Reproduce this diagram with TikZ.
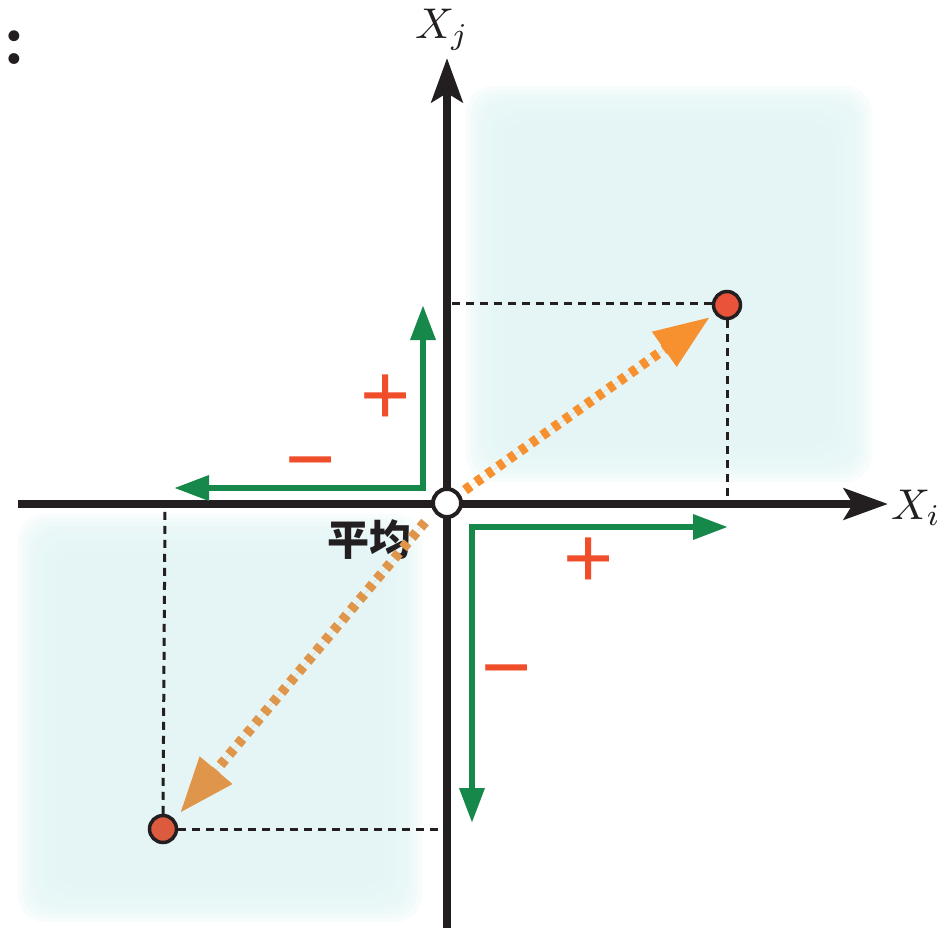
\documentclass[tikz,border=0pt]{standalone}
\usepackage{fontspec}
\usepackage{graphicx}
\newfontfamily\cjk{Noto Sans CJK SC}
\newfontfamily\signfont{Liberation Sans}
\usetikzlibrary{arrows.meta}
\definecolor{axisblack}{HTML}{231F20}
\definecolor{gr}{HTML}{15884A}
\definecolor{signcol}{HTML}{F04E2B}
\definecolor{orA}{HTML}{F7902F}
\definecolor{orB}{HTML}{E0964A}
\definecolor{ptA}{HTML}{E8533A}
\definecolor{ptB}{HTML}{DC5A3E}
\definecolor{quadcol}{HTML}{E4F5F5}
\tikzset{
  axis/.style={draw=axisblack, line width=8.5pt, -{Stealth[length=44pt,width=31pt,inset=9pt]}},
  guide/.style={draw=axisblack, line width=3pt, dash pattern=on 8pt off 6pt},
  garrow/.style={draw=gr, line width=6.5pt, miter limit=10, {Triangle[length=35pt,width=24pt]}-{Triangle[length=35pt,width=24pt]}},
  oarrow/.style={line width=10pt, dash pattern=on 7pt off 6.5pt, -{Triangle[length=56pt,width=40pt]}},
  pt/.style={circle, draw=axisblack, line width=3.5pt, minimum size=27pt, inner sep=0pt},
  signlbl/.style={text=signcol, font=\signfont\fontsize{86}{86}\selectfont, inner sep=0pt},
  axlbl/.style={inner sep=0pt, text=axisblack},
  quad/.style={fill=quadcol, fill opacity=0.27, rounded corners=26pt},
}
\begin{document}
\begin{tikzpicture}[x=1pt,y=-1pt]
\useasboundingbox (0,0) rectangle (945,928);
% shaded quadrants (soft edges)
\foreach \d in {-4,0,4,8,12,16,20,24,28,32}{
  \path[quad] (470+\d,90+\d) rectangle (868-\d,478-\d);
  \path[quad] (22+\d,518+\d) rectangle (418-\d,918-\d);
}
% colon at top left
\node[font=\bfseries\fontsize{76}{76}\selectfont, inner sep=0pt, text=axisblack] (colon) at (14,48) {:};
% points
\node[pt, fill=ptA] (P) at (727,305) {};
\node[pt, fill=ptB] (Q) at (163,829) {};
% guide lines
\coordinate (Px) at (727,500);
\coordinate (Py) at (452,303);
\coordinate (Qx) at (165,510);
\coordinate (Qy) at (443,829);
\draw[guide] (P.west |- Py) -- (Py);
\draw[guide] (P.south) -- (Px);
\draw[guide] (Q.north) -- (Qx);
\draw[guide] (Q.east) -- (Qy);
% axes
\coordinate (xs) at (18,504);
\coordinate (xe) at (888,504);
\coordinate (ys) at (447,928);
\coordinate (ye) at (447,58);
\draw[axis] (xs) -- (xe);
\draw[axis] (ys) -- (ye);
\node[axlbl] (Xj) at (442,30) {\scalebox{4.3}{$X_j$}};
\node[axlbl] (Xi) at (916,508) {\scalebox{4.3}{$X_i$}};
% green arrows
\coordinate (g1a) at (174,488);
\coordinate (g1c) at (423,488);
\coordinate (g1b) at (423,305);
\draw[garrow] (g1a) -- (g1c) -- (g1b);
\coordinate (g2a) at (728,527);
\coordinate (g2c) at (472,527);
\coordinate (g2b) at (472,823);
\draw[garrow] (g2a) -- (g2c) -- (g2b);
% signs
\node[signlbl] (p1) at (386,400) {+};
\node[signlbl] (m1) at (311,473) {−};
\node[signlbl] (p2) at (589,563) {+};
\node[signlbl] (m2) at (507,681) {−};
% mean label
\node[font=\cjk\bfseries\fontsize{42}{42}\selectfont, inner sep=0pt, text=axisblack] (mean) at (369,540) {平均};
% orange arrows
\coordinate (oa1) at (465,490);
\coordinate (oa2) at (710,317);
\coordinate (ob1) at (425,522);
\coordinate (ob2) at (180,813);
\draw[oarrow, draw=orA, fill=orA] (oa1) -- (oa2);
\draw[oarrow, draw=orB, fill=orB] (ob1) -- (ob2);
% origin
\node[circle, draw=axisblack, fill=white, line width=4pt, minimum size=28pt, inner sep=0pt] (O) at (447,503) {};
\end{tikzpicture}
\end{document}
